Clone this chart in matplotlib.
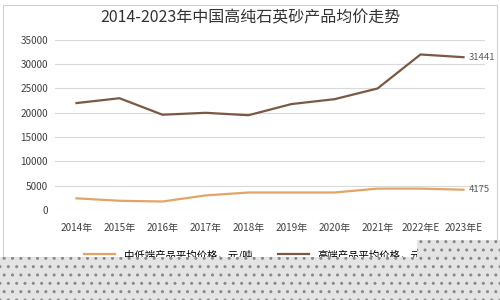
import matplotlib.pyplot as plt
from matplotlib.patches import Polygon, Rectangle

plt.rcParams['font.family'] = ['Noto Sans CJK SC', 'DejaVu Sans']

years = ['2014年', '2015年', '2016年', '2017年', '2018年', '2019年', '2020年', '2021年', '2022年E', '2023年E']
low_price = [2400, 1900, 1750, 3000, 3600, 3600, 3600, 4400, 4400, 4175]
high_price = [22000, 23000, 19600, 20000, 19500, 21800, 22800, 25000, 32000, 31441]
low_name = '中低端产品平均价格，元/吨'
high_name = '高端产品平均价格，元/吨'

fig = plt.figure(figsize=(5, 3), dpi=100)
ax = fig.add_axes([0.11, 0.30, 0.86, 0.567])

x = range(len(years))
ax.plot(x, low_price, color='#E3A466', lw=1.6, label=low_name)
ax.plot(x, high_price, color='#7A5843', lw=1.6, label=high_name)

ax.annotate(str(high_price[-1]), (x[-1], high_price[-1]), xytext=(4, 0),
            textcoords='offset points', va='center', fontsize=6.8, color='#595959')
ax.annotate(str(low_price[-1]), (x[-1], low_price[-1]), xytext=(4, 0),
            textcoords='offset points', va='center', fontsize=6.8, color='#595959')

ax.set_xlim(-0.5, len(years) - 0.5)
ax.set_ylim(0, 35000)
ax.set_yticks(range(0, 35001, 5000))
ax.set_xticks(list(x))
ax.set_xticklabels(years)
ax.tick_params(length=0, labelsize=7.2, colors='#404040')
ax.tick_params(axis='y', pad=5)
ax.tick_params(axis='x', pad=9)
ax.grid(axis='y', color='#d9d9d9', lw=0.8)
ax.set_axisbelow(True)
for s in ax.spines.values():
    s.set_visible(False)

fig.suptitle('2014-2023年中国高纯石英砂产品均价走势', y=0.97, fontsize=11.5, color='#333333')

fig.legend(loc='lower center', bbox_to_anchor=(0.52, 0.1), ncol=2, frameon=False,
           fontsize=7.5, handlelength=3, columnspacing=2.5)

# chart border
fig.patches.append(Rectangle((0.006, 0.01), 0.988, 0.975, transform=fig.transFigure,
                             fill=False, edgecolor='#d0d0d0', lw=0.8))

# dotted grey overlay covering the bottom of the picture
fig.patches.append(Polygon([(0, 0), (1, 0), (1, 0.2), (0.834, 0.2), (0.834, 0.145), (0, 0.145)],
                           closed=True, transform=fig.transFigure, facecolor='#e4e4e4',
                           edgecolor='#8a8a8a', hatch='..', lw=0, zorder=10))

fig.savefig('out.png', dpi=100)
